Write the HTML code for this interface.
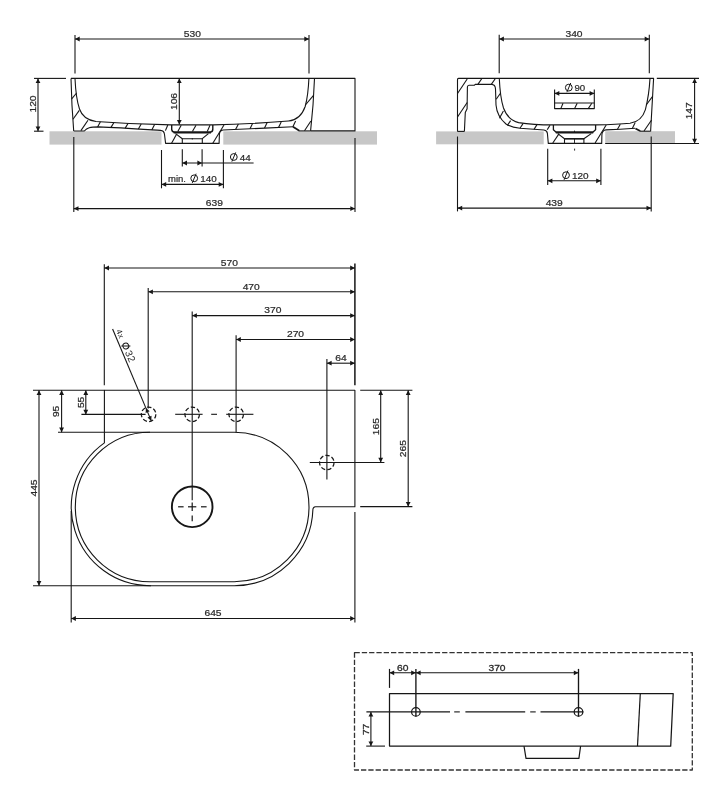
<!DOCTYPE html>
<html>
<head>
<meta charset="utf-8">
<title>Washbasin technical drawing</title>
<style>
html, body { margin: 0; padding: 0; background: #ffffff; }
body { width: 719px; height: 800px; overflow: hidden; font-family: "Liberation Sans", sans-serif; }
svg { display: block; will-change: transform; }
svg text { font-family: "Liberation Sans", sans-serif; fill: #2a2a2a; }
</style>
</head>
<body>
<svg width="719" height="800" viewBox="0 0 719 800" fill="none" stroke="#161616" stroke-linecap="butt" stroke-linejoin="round">
<rect x="0" y="0" width="719" height="800" fill="#ffffff" stroke="none"/>
<rect x="49.5" y="131.3" width="112" height="13.3" fill="#c7c7c7" stroke="none"/>
<rect x="223.3" y="131.3" width="153.7" height="13.3" fill="#c7c7c7" stroke="none"/>
<path d="M71 78.4 H355 V130.9 H310.6" stroke-width="1.1" />
<path d="M71 78.4 Q71.6 105 73.7 131" stroke-width="1.1" />
<path d="M314.5 78.4 Q313.5 105 310.6 130.9" stroke-width="1.1" />
<path d="M75 78.4 C75.6 92 77.5 103 79.5 109 C82 116.5 88 120.3 96 121.5 C120 123.3 150 124.6 171 124.9 H213.3 C240 124.4 268 122.6 288.4 121 C297 120.2 302.4 114.5 305.2 106.5 C307.4 98 308.5 88 308.9 78.4" stroke-width="1.1" />
<path d="M73.7 131 H84.3 C87 127.8 90 126.9 98.5 126.9 C120 127.6 145 129.4 160.5 130.4 C163.4 130.7 164.3 132 164.5 134.5 L165.6 143.4 H219.1 L219.4 134.4 C219.6 131.6 220.6 130.3 223 130 C245 129 270 127.9 293 126.7" stroke-width="1.1" />
<path d="M293 126.7 L299.3 130.8" stroke-width="1.7" />
<path d="M299 130.9 H310.6" stroke-width="1.1" />
<line x1="71.50" y1="99.20" x2="76.60" y2="93.00" stroke-width="1.1" />
<line x1="73.00" y1="119.30" x2="79.30" y2="110.40" stroke-width="1.1" />
<line x1="80.90" y1="130.60" x2="88.00" y2="120.20" stroke-width="1.1" />
<line x1="97.60" y1="127.00" x2="100.40" y2="121.80" stroke-width="1.1" />
<line x1="111.00" y1="127.40" x2="113.80" y2="122.80" stroke-width="1.1" />
<line x1="125.20" y1="128.10" x2="128.00" y2="123.50" stroke-width="1.1" />
<line x1="138.40" y1="129.00" x2="141.20" y2="124.00" stroke-width="1.1" />
<line x1="151.80" y1="130.00" x2="154.60" y2="124.40" stroke-width="1.1" />
<line x1="165.40" y1="130.60" x2="167.80" y2="125.00" stroke-width="1.1" />
<line x1="235.70" y1="129.30" x2="238.40" y2="123.90" stroke-width="1.1" />
<line x1="250.00" y1="128.70" x2="252.70" y2="123.30" stroke-width="1.1" />
<line x1="264.50" y1="128.10" x2="267.20" y2="122.50" stroke-width="1.1" />
<line x1="278.50" y1="127.50" x2="281.20" y2="121.90" stroke-width="1.1" />
<line x1="292.90" y1="126.80" x2="295.60" y2="121.00" stroke-width="1.1" />
<line x1="304.50" y1="130.70" x2="310.90" y2="121.00" stroke-width="1.1" />
<line x1="305.80" y1="104.50" x2="313.30" y2="95.60" stroke-width="1.1" />
<path d="M171.7 124.9 V129.4 Q171.9 131.9 174.4 132.2 H210.2 Q212.7 131.9 212.8 129.4 V124.9" stroke-width="1.4" />
<line x1="173.60" y1="132.50" x2="211.00" y2="132.50" stroke-width="1.9" />
<path d="M175.6 133.6 L182.3 138.7 H202.3 L208.4 133.6" stroke-width="1.1" />
<line x1="182.30" y1="138.70" x2="182.30" y2="143.40" stroke-width="1.1" />
<line x1="202.30" y1="138.70" x2="202.30" y2="143.40" stroke-width="1.1" />
<line x1="192.30" y1="138.00" x2="192.30" y2="139.60" stroke-width="0.8" />
<line x1="177.80" y1="131.60" x2="181.20" y2="125.30" stroke-width="1.1" />
<line x1="192.40" y1="131.60" x2="196.00" y2="125.30" stroke-width="1.1" />
<line x1="207.20" y1="131.60" x2="210.00" y2="125.30" stroke-width="1.1" />
<line x1="171.60" y1="143.20" x2="176.40" y2="134.60" stroke-width="1.1" />
<line x1="212.80" y1="143.20" x2="224.00" y2="125.00" stroke-width="1.1" />
<line x1="75.00" y1="35.00" x2="75.00" y2="73.40" stroke-width="1.1" />
<line x1="309.00" y1="35.00" x2="309.00" y2="73.40" stroke-width="1.1" />
<line x1="75.00" y1="39.00" x2="309.00" y2="39.00" stroke-width="1.1" />
<polygon points="75.00,39.00 79.70,36.60 79.70,41.40" fill="#161616" stroke="none"/>
<polygon points="309.00,39.00 304.30,41.40 304.30,36.60" fill="#161616" stroke="none"/>
<text transform="translate(192.30 36.60) scale(1.06 1)" font-size="9.7" text-anchor="middle"  stroke="#2a2a2a" stroke-width="0.22">530</text>
<line x1="34.00" y1="78.40" x2="66.00" y2="78.40" stroke-width="1.1" />
<line x1="34.00" y1="131.20" x2="43.50" y2="131.20" stroke-width="1.1" />
<line x1="38.00" y1="78.40" x2="38.00" y2="131.20" stroke-width="1.1" />
<polygon points="38.00,78.40 40.40,83.10 35.60,83.10" fill="#161616" stroke="none"/>
<polygon points="38.00,131.20 35.60,126.50 40.40,126.50" fill="#161616" stroke="none"/>
<text transform="translate(35.90 104.00) rotate(-90) scale(1.06 1)" font-size="9.7" text-anchor="middle"  stroke="#2a2a2a" stroke-width="0.22">120</text>
<line x1="179.30" y1="78.40" x2="179.30" y2="124.60" stroke-width="1.1" />
<polygon points="179.30,78.40 181.70,83.10 176.90,83.10" fill="#161616" stroke="none"/>
<polygon points="179.30,124.60 176.90,119.90 181.70,119.90" fill="#161616" stroke="none"/>
<text transform="translate(177.10 101.50) rotate(-90) scale(1.06 1)" font-size="9.7" text-anchor="middle"  stroke="#2a2a2a" stroke-width="0.22">106</text>
<line x1="182.30" y1="149.20" x2="182.30" y2="166.60" stroke-width="1.1" />
<line x1="202.10" y1="149.20" x2="202.10" y2="166.60" stroke-width="1.1" />
<line x1="182.30" y1="163.00" x2="253.60" y2="163.00" stroke-width="1.1" />
<polygon points="182.30,163.00 187.00,160.60 187.00,165.40" fill="#161616" stroke="none"/>
<polygon points="202.10,163.00 197.40,165.40 197.40,160.60" fill="#161616" stroke="none"/>
<circle cx="233.80" cy="157.00" r="3.4" stroke-width="1.0"/>
<line x1="231.90" y1="161.60" x2="235.70" y2="152.40" stroke-width="1.0" />
<text transform="translate(250.80 160.60) scale(1.04 1)" font-size="9.5" text-anchor="end"  stroke="#2a2a2a" stroke-width="0.22">44</text>
<line x1="161.50" y1="150.00" x2="161.50" y2="188.30" stroke-width="1.1" />
<line x1="223.40" y1="150.00" x2="223.40" y2="188.30" stroke-width="1.1" />
<line x1="161.50" y1="184.40" x2="223.40" y2="184.40" stroke-width="1.1" />
<polygon points="161.50,184.40 166.20,182.00 166.20,186.80" fill="#161616" stroke="none"/>
<polygon points="223.40,184.40 218.70,186.80 218.70,182.00" fill="#161616" stroke="none"/>
<text transform="translate(168.00 181.70) scale(1.0 1)" font-size="9.5" text-anchor="start"  stroke="#2a2a2a" stroke-width="0.22">min.</text>
<circle cx="194.20" cy="178.30" r="3.4" stroke-width="1.0"/>
<line x1="192.30" y1="182.90" x2="196.10" y2="173.70" stroke-width="1.0" />
<text transform="translate(216.80 181.80) scale(1.04 1)" font-size="9.5" text-anchor="end"  stroke="#2a2a2a" stroke-width="0.22">140</text>
<line x1="73.80" y1="137.00" x2="73.80" y2="212.00" stroke-width="1.1" />
<line x1="355.00" y1="138.00" x2="355.00" y2="212.00" stroke-width="1.1" />
<line x1="73.80" y1="208.60" x2="355.00" y2="208.60" stroke-width="1.1" />
<polygon points="73.80,208.60 78.50,206.20 78.50,211.00" fill="#161616" stroke="none"/>
<polygon points="355.00,208.60 350.30,211.00 350.30,206.20" fill="#161616" stroke="none"/>
<text transform="translate(214.40 206.20) scale(1.06 1)" font-size="9.7" text-anchor="middle"  stroke="#2a2a2a" stroke-width="0.22">639</text>
<rect x="436.1" y="131.4" width="107.6" height="12.9" fill="#c7c7c7" stroke="none"/>
<rect x="605.2" y="131.2" width="69.8" height="12.7" fill="#c7c7c7" stroke="none"/>
<path d="M457.5 131.4 V79.4 Q457.5 78.4 458.5 78.4 H653.6 Q652.0 105 650.6 131.4" stroke-width="1.1" />
<line x1="457.50" y1="131.40" x2="464.40" y2="131.40" stroke-width="1.1" />
<path d="M464.4 131.4 L465.3 112.4 L467.1 108.8 L467.4 87.1 Q467.5 85.4 469 85.3 H474.3 L475.2 84.4 H491.5 Q495.3 84.6 495.5 88.9 L496 105 C496.6 112 499.5 118.5 506 124 C510 126.6 514 127.6 520 128.2 C530 129 538 129.6 544 130 C546.6 130.3 547.2 131.4 547.4 133.4 L548.3 143.4 H601.7 L601.9 134.6 C602.1 131.4 603.2 130.1 606 129.9 C616 129.6 626 129 635 128.3" stroke-width="1.1" />
<path d="M635.4 128.4 L640.2 131.1" stroke-width="1.7" />
<line x1="640.00" y1="131.20" x2="650.60" y2="131.20" stroke-width="1.1" />
<path d="M499.3 78.4 C499.8 90 501 100 503.5 108 C506.5 116.5 511 120.6 518.6 122.6 C530 124.4 545 124.9 553 124.9 H595.6 C610 124.6 622 124 630 123.2 C639 122 643.4 116 645.4 109.6 C647.6 101 649.4 89 650 78.4" stroke-width="1.1" />
<line x1="457.50" y1="93.50" x2="467.20" y2="79.00" stroke-width="1.1" />
<line x1="457.50" y1="117.00" x2="467.20" y2="102.50" stroke-width="1.1" />
<line x1="477.90" y1="84.40" x2="481.70" y2="78.80" stroke-width="1.1" />
<line x1="491.30" y1="84.40" x2="495.20" y2="78.80" stroke-width="1.1" />
<line x1="496.20" y1="99.20" x2="500.60" y2="93.00" stroke-width="1.1" />
<line x1="499.40" y1="118.20" x2="503.40" y2="111.00" stroke-width="1.1" />
<line x1="507.40" y1="125.40" x2="510.60" y2="120.60" stroke-width="1.1" />
<line x1="520.00" y1="128.20" x2="523.00" y2="123.60" stroke-width="1.1" />
<line x1="534.00" y1="129.40" x2="537.00" y2="124.60" stroke-width="1.1" />
<line x1="547.20" y1="129.80" x2="550.00" y2="125.20" stroke-width="1.1" />
<line x1="617.30" y1="129.40" x2="620.30" y2="124.20" stroke-width="1.1" />
<line x1="632.30" y1="128.40" x2="635.20" y2="122.60" stroke-width="1.1" />
<line x1="644.00" y1="131.00" x2="651.60" y2="120.00" stroke-width="1.1" />
<line x1="646.20" y1="105.00" x2="652.60" y2="96.40" stroke-width="1.1" />
<path d="M553.4 124.9 V129.8 L556.1 132.2 H592.8 L595.6 129.8 V124.9" stroke-width="1.3" />
<line x1="555.80" y1="132.50" x2="593.20" y2="132.50" stroke-width="1.9" />
<path d="M557.8 133.6 L564.5 138.8 H583.9 L591.2 133.6" stroke-width="1.1" />
<line x1="564.50" y1="138.80" x2="583.90" y2="138.80" stroke-width="1.4" />
<line x1="564.50" y1="138.80" x2="564.50" y2="143.40" stroke-width="1.1" />
<line x1="583.90" y1="138.80" x2="583.90" y2="143.40" stroke-width="1.1" />
<line x1="574.50" y1="130.60" x2="574.50" y2="133.00" stroke-width="0.9" />
<line x1="574.50" y1="138.80" x2="574.50" y2="143.40" stroke-width="0.9" />
<line x1="552.80" y1="143.00" x2="558.90" y2="133.90" stroke-width="1.1" />
<line x1="595.10" y1="143.00" x2="606.20" y2="125.00" stroke-width="1.1" />
<path d="M554.6 89.6 V108.6 H594.3 V89.6" stroke-width="1.1" />
<line x1="554.60" y1="103.00" x2="594.30" y2="103.00" stroke-width="1.1" />
<line x1="554.60" y1="93.40" x2="594.30" y2="93.40" stroke-width="1.1" />
<polygon points="554.60,93.40 559.30,91.00 559.30,95.80" fill="#161616" stroke="none"/>
<polygon points="594.30,93.40 589.60,95.80 589.60,91.00" fill="#161616" stroke="none"/>
<line x1="560.90" y1="108.40" x2="563.00" y2="103.30" stroke-width="1.1" />
<line x1="574.60" y1="108.40" x2="577.20" y2="103.30" stroke-width="1.1" />
<line x1="588.40" y1="108.40" x2="591.80" y2="103.30" stroke-width="1.1" />
<circle cx="568.80" cy="87.60" r="3.4" stroke-width="1.0"/>
<line x1="566.90" y1="92.20" x2="570.70" y2="83.00" stroke-width="1.0" />
<text transform="translate(585.20 91.20) scale(1.02 1)" font-size="9.5" text-anchor="end"  stroke="#2a2a2a" stroke-width="0.22">90</text>
<line x1="499.20" y1="34.80" x2="499.20" y2="73.30" stroke-width="1.1" />
<line x1="649.30" y1="34.80" x2="649.30" y2="73.30" stroke-width="1.1" />
<line x1="499.20" y1="39.00" x2="649.40" y2="39.00" stroke-width="1.1" />
<polygon points="499.20,39.00 503.90,36.60 503.90,41.40" fill="#161616" stroke="none"/>
<polygon points="649.40,39.00 644.70,41.40 644.70,36.60" fill="#161616" stroke="none"/>
<text transform="translate(574.00 36.70) scale(1.06 1)" font-size="9.7" text-anchor="middle"  stroke="#2a2a2a" stroke-width="0.22">340</text>
<line x1="656.80" y1="78.40" x2="699.00" y2="78.40" stroke-width="1.1" />
<line x1="605.20" y1="143.50" x2="699.00" y2="143.50" stroke-width="1.1" />
<line x1="694.60" y1="78.40" x2="694.60" y2="143.50" stroke-width="1.1" />
<polygon points="694.60,78.40 697.00,83.10 692.20,83.10" fill="#161616" stroke="none"/>
<polygon points="694.60,143.50 692.20,138.80 697.00,138.80" fill="#161616" stroke="none"/>
<text transform="translate(692.40 110.80) rotate(-90) scale(1.06 1)" font-size="9.7" text-anchor="middle"  stroke="#2a2a2a" stroke-width="0.22">147</text>
<line x1="547.70" y1="148.80" x2="547.70" y2="185.00" stroke-width="1.1" />
<line x1="600.90" y1="148.80" x2="600.90" y2="185.00" stroke-width="1.1" />
<line x1="547.70" y1="180.80" x2="600.90" y2="180.80" stroke-width="1.1" />
<polygon points="547.70,180.80 552.40,178.40 552.40,183.20" fill="#161616" stroke="none"/>
<polygon points="600.90,180.80 596.20,183.20 596.20,178.40" fill="#161616" stroke="none"/>
<circle cx="566.00" cy="175.20" r="3.4" stroke-width="1.0"/>
<line x1="564.10" y1="179.80" x2="567.90" y2="170.60" stroke-width="1.0" />
<text transform="translate(588.60 178.70) scale(1.03 1)" font-size="9.7" text-anchor="end"  stroke="#2a2a2a" stroke-width="0.22">120</text>
<line x1="574.60" y1="148.60" x2="574.60" y2="150.60" stroke-width="0.9" />
<line x1="457.50" y1="136.50" x2="457.50" y2="211.40" stroke-width="1.1" />
<line x1="651.20" y1="136.50" x2="651.20" y2="211.40" stroke-width="1.1" />
<line x1="457.50" y1="208.10" x2="651.20" y2="208.10" stroke-width="1.1" />
<polygon points="457.50,208.10 462.20,205.70 462.20,210.50" fill="#161616" stroke="none"/>
<polygon points="651.20,208.10 646.50,210.50 646.50,205.70" fill="#161616" stroke="none"/>
<text transform="translate(554.20 205.70) scale(1.06 1)" font-size="9.7" text-anchor="middle"  stroke="#2a2a2a" stroke-width="0.22">439</text>
<path d="M104.4 390.3 H354.9 V506.7 H315.4 Q313.0 506.8 312.9 509.6 A78.7 78.7 0 0 1 234.3 585.70 H150.0 A78.7 78.7 0 0 1 104.4 442.86 Z" stroke-width="1.1" />
<path d="M150.0 432.3 H234.3 A74.7 74.7 0 0 1 234.3 581.7 H150.0 A74.7 74.7 0 0 1 150.0 432.3 Z" stroke-width="1.1" />
<circle cx="192.2" cy="506.8" r="20.3" stroke-width="1.9"/>
<line x1="178.10" y1="506.80" x2="183.60" y2="506.80" stroke-width="1.2" />
<line x1="188.00" y1="506.80" x2="196.30" y2="506.80" stroke-width="1.2" />
<line x1="201.00" y1="506.80" x2="206.60" y2="506.80" stroke-width="1.2" />
<line x1="192.20" y1="502.60" x2="192.20" y2="510.90" stroke-width="1.2" />
<line x1="192.20" y1="515.60" x2="192.20" y2="521.20" stroke-width="1.2" />
<circle cx="148.6" cy="414.3" r="7.25" stroke-dasharray="4.3 2.2" stroke-width="1.25"/>
<circle cx="192.2" cy="414.3" r="7.25" stroke-dasharray="4.3 2.2" stroke-width="1.25"/>
<circle cx="236.2" cy="414.3" r="7.25" stroke-dasharray="4.3 2.2" stroke-width="1.25"/>
<circle cx="326.8" cy="462.5" r="7.25" stroke-dasharray="4.3 2.2" stroke-width="1.25"/>
<line x1="175.20" y1="414.30" x2="202.60" y2="414.30" stroke-width="1.1" />
<line x1="211.20" y1="414.30" x2="217.00" y2="414.30" stroke-width="1.1" />
<line x1="226.20" y1="414.30" x2="253.40" y2="414.30" stroke-width="1.1" />
<line x1="354.90" y1="263.60" x2="354.90" y2="385.20" stroke-width="1.5" />
<line x1="104.30" y1="264.20" x2="104.30" y2="385.20" stroke-width="1.1" />
<line x1="104.30" y1="268.00" x2="354.90" y2="268.00" stroke-width="1.1" />
<polygon points="104.30,268.00 109.00,265.60 109.00,270.40" fill="#161616" stroke="none"/>
<polygon points="354.90,268.00 350.20,270.40 350.20,265.60" fill="#161616" stroke="none"/>
<text transform="translate(229.40 265.80) scale(1.06 1)" font-size="9.7" text-anchor="middle"  stroke="#2a2a2a" stroke-width="0.22">570</text>
<line x1="148.20" y1="288.00" x2="148.20" y2="408.50" stroke-width="1.1" />
<line x1="148.20" y1="291.80" x2="354.90" y2="291.80" stroke-width="1.1" />
<polygon points="148.20,291.80 152.90,289.40 152.90,294.20" fill="#161616" stroke="none"/>
<polygon points="354.90,291.80 350.20,294.20 350.20,289.40" fill="#161616" stroke="none"/>
<text transform="translate(251.20 289.60) scale(1.06 1)" font-size="9.7" text-anchor="middle"  stroke="#2a2a2a" stroke-width="0.22">470</text>
<line x1="192.20" y1="311.40" x2="192.20" y2="500.30" stroke-width="1.1" />
<line x1="192.20" y1="315.60" x2="354.90" y2="315.60" stroke-width="1.1" />
<polygon points="192.20,315.60 196.90,313.20 196.90,318.00" fill="#161616" stroke="none"/>
<polygon points="354.90,315.60 350.20,318.00 350.20,313.20" fill="#161616" stroke="none"/>
<text transform="translate(272.80 313.40) scale(1.06 1)" font-size="9.7" text-anchor="middle"  stroke="#2a2a2a" stroke-width="0.22">370</text>
<line x1="236.10" y1="335.20" x2="236.10" y2="432.30" stroke-width="1.1" />
<line x1="236.10" y1="339.50" x2="354.90" y2="339.50" stroke-width="1.1" />
<polygon points="236.10,339.50 240.80,337.10 240.80,341.90" fill="#161616" stroke="none"/>
<polygon points="354.90,339.50 350.20,341.90 350.20,337.10" fill="#161616" stroke="none"/>
<text transform="translate(295.50 337.30) scale(1.06 1)" font-size="9.7" text-anchor="middle"  stroke="#2a2a2a" stroke-width="0.22">270</text>
<line x1="326.90" y1="358.90" x2="326.90" y2="479.60" stroke-width="1.1" />
<line x1="326.90" y1="363.20" x2="354.90" y2="363.20" stroke-width="1.1" />
<polygon points="326.90,363.20 331.60,360.80 331.60,365.60" fill="#161616" stroke="none"/>
<polygon points="354.90,363.20 350.20,365.60 350.20,360.80" fill="#161616" stroke="none"/>
<text transform="translate(341.00 361.20) scale(1.06 1)" font-size="9.7" text-anchor="middle"  stroke="#2a2a2a" stroke-width="0.22">64</text>
<line x1="112.60" y1="329.00" x2="151.30" y2="420.90" stroke-width="1.1" />
<polygon points="145.90,407.90 149.71,411.29 145.66,412.99" fill="#161616" stroke="none"/>
<polygon points="151.30,420.90 147.49,417.51 151.54,415.81" fill="#161616" stroke="none"/>
<g transform="translate(112.6 329.0) rotate(67.16)">
<text x="2.8" y="-2.4" font-size="8" text-anchor="start" letter-spacing="0.5" stroke="none">4x</text>
<circle cx="20.8" cy="-5.6" r="2.9" stroke-width="1.0"/>
<line x1="19.1" y1="-1.4" x2="22.5" y2="-9.8" stroke-width="1.0"/>
<text x="26.2" y="-2.2" font-size="10" text-anchor="start" letter-spacing="0.5" stroke="none">32</text>
</g>
<line x1="33.00" y1="390.30" x2="104.40" y2="390.30" stroke-width="1.1" />
<line x1="33.00" y1="585.70" x2="151.00" y2="585.70" stroke-width="1.1" />
<line x1="39.00" y1="390.30" x2="39.00" y2="585.70" stroke-width="1.1" />
<polygon points="39.00,390.30 41.40,395.00 36.60,395.00" fill="#161616" stroke="none"/>
<polygon points="39.00,585.70 36.60,581.00 41.40,581.00" fill="#161616" stroke="none"/>
<text transform="translate(36.80 488.00) rotate(-90) scale(1.06 1)" font-size="9.7" text-anchor="middle"  stroke="#2a2a2a" stroke-width="0.22">445</text>
<line x1="58.00" y1="432.30" x2="150.00" y2="432.30" stroke-width="1.1" />
<line x1="61.60" y1="390.30" x2="61.60" y2="432.30" stroke-width="1.1" />
<polygon points="61.60,390.30 64.00,395.00 59.20,395.00" fill="#161616" stroke="none"/>
<polygon points="61.60,432.30 59.20,427.60 64.00,427.60" fill="#161616" stroke="none"/>
<text transform="translate(59.40 411.40) rotate(-90) scale(1.06 1)" font-size="9.7" text-anchor="middle"  stroke="#2a2a2a" stroke-width="0.22">95</text>
<line x1="81.40" y1="414.40" x2="145.60" y2="414.40" stroke-width="1.1" />
<line x1="85.80" y1="390.30" x2="85.80" y2="414.40" stroke-width="1.1" />
<polygon points="85.80,390.30 88.20,395.00 83.40,395.00" fill="#161616" stroke="none"/>
<polygon points="85.80,414.40 83.40,409.70 88.20,409.70" fill="#161616" stroke="none"/>
<text transform="translate(83.60 402.40) rotate(-90) scale(1.06 1)" font-size="9.7" text-anchor="middle"  stroke="#2a2a2a" stroke-width="0.22">55</text>
<line x1="360.20" y1="390.30" x2="412.40" y2="390.30" stroke-width="1.1" />
<line x1="309.80" y1="462.50" x2="384.40" y2="462.50" stroke-width="1.1" />
<line x1="360.20" y1="506.60" x2="412.40" y2="506.60" stroke-width="1.1" />
<line x1="380.70" y1="390.30" x2="380.70" y2="462.50" stroke-width="1.1" />
<polygon points="380.70,390.30 383.10,395.00 378.30,395.00" fill="#161616" stroke="none"/>
<polygon points="380.70,462.50 378.30,457.80 383.10,457.80" fill="#161616" stroke="none"/>
<text transform="translate(378.60 426.60) rotate(-90) scale(1.06 1)" font-size="9.7" text-anchor="middle"  stroke="#2a2a2a" stroke-width="0.22">165</text>
<line x1="408.20" y1="390.30" x2="408.20" y2="506.60" stroke-width="1.1" />
<polygon points="408.20,390.30 410.60,395.00 405.80,395.00" fill="#161616" stroke="none"/>
<polygon points="408.20,506.60 405.80,501.90 410.60,501.90" fill="#161616" stroke="none"/>
<text transform="translate(406.00 448.60) rotate(-90) scale(1.06 1)" font-size="9.7" text-anchor="middle"  stroke="#2a2a2a" stroke-width="0.22">265</text>
<line x1="71.20" y1="511.00" x2="71.20" y2="622.40" stroke-width="1.1" />
<line x1="354.90" y1="512.00" x2="354.90" y2="622.40" stroke-width="1.1" />
<line x1="71.20" y1="618.50" x2="354.90" y2="618.50" stroke-width="1.1" />
<polygon points="71.20,618.50 75.90,616.10 75.90,620.90" fill="#161616" stroke="none"/>
<polygon points="354.90,618.50 350.20,620.90 350.20,616.10" fill="#161616" stroke="none"/>
<text transform="translate(213.00 616.20) scale(1.06 1)" font-size="9.7" text-anchor="middle"  stroke="#2a2a2a" stroke-width="0.22">645</text>
<rect x="354.5" y="652.7" width="337.8" height="117.3" stroke-dasharray="5.3 2.0" stroke-width="1.3" stroke="#333333"/>
<path d="M389.5 693.5 H673.2 L670.7 746.1 H389.5 Z" stroke-width="1.25" />
<line x1="640.30" y1="693.50" x2="637.50" y2="746.10" stroke-width="1.2" />
<path d="M524 746.1 L526 758.3 H578.9 L580.6 746.1" stroke-width="1.2" />
<circle cx="415.9" cy="711.9" r="4.3" stroke-width="1.2"/>
<circle cx="578.5" cy="711.9" r="4.3" stroke-width="1.2"/>
<line x1="366.40" y1="711.90" x2="450.00" y2="711.90" stroke-width="1.1" />
<line x1="454.20" y1="711.90" x2="459.80" y2="711.90" stroke-width="1.1" />
<line x1="465.40" y1="711.90" x2="525.20" y2="711.90" stroke-width="1.1" />
<line x1="530.20" y1="711.90" x2="535.70" y2="711.90" stroke-width="1.1" />
<line x1="540.50" y1="711.90" x2="583.40" y2="711.90" stroke-width="1.1" />
<line x1="389.50" y1="668.90" x2="389.50" y2="687.90" stroke-width="1.2" />
<line x1="415.90" y1="668.90" x2="415.90" y2="716.60" stroke-width="1.35" />
<line x1="578.50" y1="668.90" x2="578.50" y2="716.60" stroke-width="1.35" />
<line x1="389.50" y1="672.80" x2="578.50" y2="672.80" stroke-width="1.1" />
<polygon points="389.50,672.80 394.20,670.40 394.20,675.20" fill="#161616" stroke="none"/>
<polygon points="415.90,672.80 411.20,675.20 411.20,670.40" fill="#161616" stroke="none"/>
<polygon points="415.90,672.80 420.60,670.40 420.60,675.20" fill="#161616" stroke="none"/>
<polygon points="578.50,672.80 573.80,675.20 573.80,670.40" fill="#161616" stroke="none"/>
<text transform="translate(402.70 671.00) scale(1.06 1)" font-size="9.7" text-anchor="middle" stroke="#2a2a2a" stroke-width="0.3">60</text>
<text transform="translate(497.00 671.00) scale(1.06 1)" font-size="9.7" text-anchor="middle" stroke="#2a2a2a" stroke-width="0.3">370</text>
<line x1="366.20" y1="746.10" x2="385.00" y2="746.10" stroke-width="1.1" />
<line x1="370.90" y1="711.90" x2="370.90" y2="746.10" stroke-width="1.1" />
<polygon points="370.90,711.90 373.30,716.60 368.50,716.60" fill="#161616" stroke="none"/>
<polygon points="370.90,746.10 368.50,741.40 373.30,741.40" fill="#161616" stroke="none"/>
<text transform="translate(368.70 729.40) rotate(-90) scale(1.06 1)" font-size="9.7" text-anchor="middle" stroke="#2a2a2a" stroke-width="0.3">77</text>
</svg>
</body>
</html>
